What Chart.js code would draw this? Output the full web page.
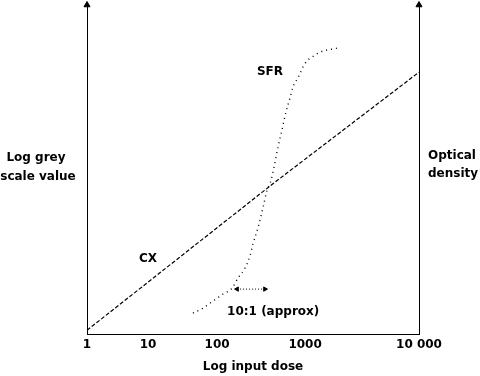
<!DOCTYPE html>
<html>
<head>
<meta charset="utf-8">
<script src="https://cdn.jsdelivr.net/npm/chart.js@4"></script>
<style>
    body { margin: 0; background: #fff; }
    #wrap { width: 480px; height: 376px; }
</style>
</head>
<body>
<div id="wrap"><canvas id="densityChart"></canvas></div>
<script>
// x is position along the (hand drawn) log dose axis, 0..100; y is 0..100 of the axis height
const tickPos = [0, 18.4, 39.2, 65.7, 100];
const tickLabels = ['1', '10', '100', '1000', '10 000'];

const cxX = [0, 56, 100];
const cxY = [1.2, 45.7, 79.6];

const sfrX = [31.9, 34.9, 38.0, 41.0, 43.7, 45.5, 47.6, 49.1, 50.0, 51.5, 53.0, 54.2,
              55.4, 56.3, 57.5, 58.7, 59.9, 61.1, 62.0, 63.6, 65.7, 68.7, 70.2, 75.3];
const sfrY = [6.4, 7.9, 10.1, 12.2, 14.0, 17.1, 20.1, 23.8, 27.4, 32.3, 38.4, 43.6,
              46.6, 50.6, 56.7, 61.9, 67.4, 71.6, 75.0, 78.0, 82.3, 84.8, 85.7, 86.9];

const rangeX = [45.2, 53.6];
const rangeY = [13.7, 13.7];

const FONT = 'bold 12px "DejaVu Sans"';

const pairs = (xs, ys) => xs.map((x, i) => ({ x: x, y: ys[i] }));

// tekster inde i og rundt om plottet
const labelPlugin = {
    id: 'labels',
    afterDatasetsDraw(chart) {
        const ctx = chart.ctx;
        const xs = chart.scales.x, ys = chart.scales.y;
        const area = chart.chartArea;
        const mid = (area.top + area.bottom) / 2;
        ctx.save();
        ctx.font = FONT;
        ctx.fillStyle = '#000';
        ctx.textBaseline = 'middle';

        ctx.textAlign = 'center';
        ctx.fillText('SFR', xs.getPixelForValue(55.1), ys.getPixelForValue(79.6));
        ctx.fillText('CX', xs.getPixelForValue(18.4), ys.getPixelForValue(22.9));
        ctx.fillText('Log grey', area.left - 51, mid - 12);
        ctx.fillText('scale value', area.left - 49, mid + 7);

        ctx.textAlign = 'left';
        ctx.fillText('10:1 (approx)', xs.getPixelForValue(42.2), ys.getPixelForValue(6.7));
        ctx.fillText('Optical', area.right + 9, mid - 14);
        ctx.fillText('density', area.right + 9, mid + 4);
        ctx.restore();
    }
};

const ctx = document.getElementById('densityChart').getContext('2d');

new Chart(ctx, {
    type: 'scatter',
    data: {
        datasets: [
            {
                label: 'CX',
                data: pairs(cxX, cxY),
                showLine: true,
                borderColor: '#000',
                borderWidth: 1.2,
                borderDash: [4, 2],
                pointRadius: 0
            },
            {
                label: 'SFR',
                data: pairs(sfrX, sfrY),
                showLine: true,
                borderColor: '#000',
                borderWidth: 1.4,
                borderDash: [1, 4],
                cubicInterpolationMode: 'monotone',
                pointRadius: 0
            },
            {
                label: '10:1',
                data: pairs(rangeX, rangeY),
                showLine: true,
                borderColor: '#000',
                borderWidth: 1,
                borderDash: [1, 2],
                pointStyle: 'triangle',
                pointRotation: [270, 90],
                pointRadius: 2.5,
                backgroundColor: '#000'
            },
            {
                label: 'arrows',
                data: [{ x: 0, y: 100 }, { x: 100, y: 100 }],
                showLine: false,
                pointStyle: 'triangle',
                pointRadius: 3.5,
                backgroundColor: '#000',
                borderColor: '#000',
                clip: false
            }
        ]
    },
    options: {
        responsive: true,
        maintainAspectRatio: false,
        animation: false,
        layout: { padding: { left: 87, right: 61, top: 5, bottom: 2 } },
        plugins: {
            legend: { display: false },
            tooltip: { enabled: false }
        },
        scales: {
            x: {
                type: 'linear',
                min: 0,
                max: 100,
                afterBuildTicks: scale => {
                    scale.ticks = tickPos.map(v => ({ value: v }));
                },
                ticks: {
                    autoSkip: false,
                    maxRotation: 0,
                    padding: 3,
                    color: '#000',
                    font: { family: 'DejaVu Sans', size: 12, weight: 'bold' },
                    callback: (value, index) => tickLabels[index]
                },
                grid: { display: false, drawTicks: false },
                border: { display: true, color: '#000', width: 1, dash: [1, 2] },
                title: {
                    display: true,
                    text: 'Log input dose',
                    color: '#000',
                    padding: { top: 5, bottom: 0 },
                    font: { family: 'DejaVu Sans', size: 12, weight: 'bold' }
                }
            },
            y: {
                type: 'linear',
                position: 'left',
                min: 0,
                max: 100,
                ticks: { display: false },
                grid: { display: false, drawTicks: false },
                border: { display: true, color: '#000', width: 1, dash: [1, 2] }
            },
            y2: {
                type: 'linear',
                position: 'right',
                min: 0,
                max: 100,
                ticks: { display: false },
                grid: { display: false, drawTicks: false },
                border: { display: true, color: '#000', width: 1, dash: [1, 2] }
            }
        }
    },
    plugins: [labelPlugin]
});
</script>
</body>
</html>
